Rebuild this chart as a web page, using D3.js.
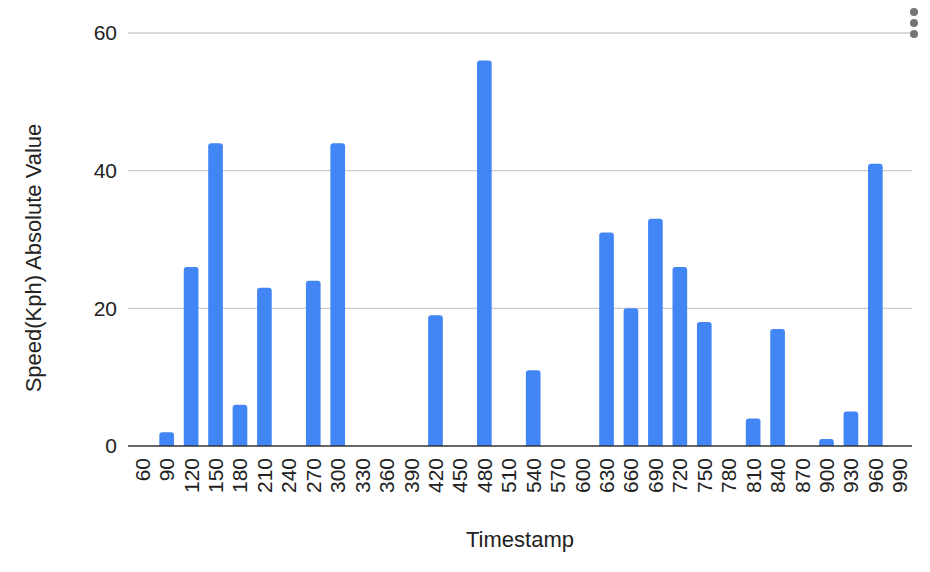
<!DOCTYPE html>
<html><head><meta charset="utf-8">
<script src="https://cdn.jsdelivr.net/npm/d3@7"></script>
<style>body{margin:0;background:#fff;} text{font-family:"Liberation Sans",Arial,sans-serif;fill:#222;}</style>
</head><body>
<svg id="chart" width="930" height="572"></svg>
<script>
const categories = [60,90,120,150,180,210,240,270,300,330,360,390,420,450,480,510,540,570,600,630,660,690,720,750,780,810,840,870,900,930,960,990];
const speeds = [0,2,26,44,6,23,0,24,44,0,0,0,19,0,56,0,11,0,0,31,20,33,26,18,0,4,17,0,1,5,41,0];
const yTicks = [0,20,40,60];
const xTitle = "Timestamp";
const yTitle = "Speed(Kph) Absolute Value";

const svg = d3.select("#chart");
const x = d3.scaleBand().domain(categories).range([130, 912]).paddingInner(0.4).paddingOuter(0.2);
const y = d3.scaleLinear().domain([0, 60]).range([446, 33]);

// gridlines
svg.append("g").selectAll("line").data(yTicks.filter(d => d !== 0)).join("line")
  .attr("x1", 128).attr("x2", 912)
  .attr("y1", d => y(d)).attr("y2", d => y(d))
  .attr("stroke", "#cccccc").attr("stroke-width", 1.3);

// y axis labels
const yAxis = d3.axisLeft(y).tickValues(yTicks).tickSize(0).tickPadding(0);
const ya = svg.append("g").attr("transform", "translate(117,0)").call(yAxis);
ya.select(".domain").remove();
ya.selectAll("text").attr("font-size", 21).attr("fill", "#222").attr("font-family", "Liberation Sans, Arial, sans-serif");

// bars
const r = 3;
function barPath(d, i) {
  const x0 = x(categories[i]), w = x.bandwidth();
  const yt = y(d), yb = y(0);
  const rr = Math.min(r, (yb - yt));
  return `M${x0},${yb} L${x0},${yt + rr} Q${x0},${yt} ${x0 + rr},${yt} L${x0 + w - rr},${yt} Q${x0 + w},${yt} ${x0 + w},${yt + rr} L${x0 + w},${yb} Z`;
}
svg.append("g").selectAll("path").data(speeds).join("path")
  .attr("d", (d, i) => d > 0 ? barPath(d, i) : null)
  .attr("fill", "#4285F4");

// baseline
svg.append("line").attr("x1", 128).attr("x2", 912).attr("y1", y(0)).attr("y2", y(0))
  .attr("stroke", "#333").attr("stroke-width", 1.3);

// x axis labels
const xAxis = d3.axisBottom(x).tickSize(0).tickPadding(0);
const xa = svg.append("g").attr("transform", "translate(0,0)").call(xAxis);
xa.select(".domain").remove();
xa.selectAll(".tick").attr("transform", d => `translate(${x(d) + x.bandwidth() / 2},458)`);
xa.selectAll("text")
  .attr("transform", "rotate(-90)")
  .attr("x", 0).attr("y", 0).attr("dy", null)
  .attr("text-anchor", "end")
  .attr("dominant-baseline", "central")
  .attr("font-size", 21).attr("fill", "#222").attr("font-family", "Liberation Sans, Arial, sans-serif");

// titles
svg.append("text").attr("x", 520).attr("y", 547).attr("text-anchor", "middle")
  .attr("font-size", 22).text(xTitle);
svg.append("text").attr("transform", "translate(41,258) rotate(-90)").attr("text-anchor", "middle")
  .attr("font-size", 22).text(yTitle);

// menu dots
svg.append("g").selectAll("circle").data([12, 23, 34]).join("circle")
  .attr("cx", 914).attr("cy", d => d).attr("r", 4).attr("fill", "#757575");
</script>
</body></html>
